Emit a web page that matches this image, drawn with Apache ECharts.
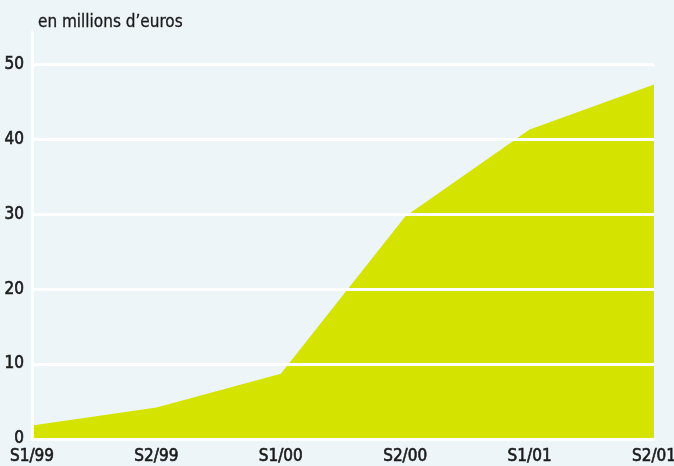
<!DOCTYPE html>
<html>
<head>
<meta charset="utf-8">
<script src="https://cdn.jsdelivr.net/npm/echarts@6/dist/echarts.min.js"></script>
<style>
html,body{margin:0;padding:0;background:#edf5f8;}
#c{width:674px;height:466px;}
</style>
</head>
<body>
<div id="c"></div>
<script>
const categories = ['S1/99', 'S2/99', 'S1/00', 'S2/00', 'S1/01', 'S2/01'];
const values = [1.8, 4.2, 8.7, 29.7, 41.3, 47.3];
const unitLabel = 'en millions d\u2019euros';

const font = '"Liberation Sans Narrow", "DejaVu Sans Condensed", sans-serif';
const labelStyle = {
  fontFamily: font, fontSize: 17, fontWeight: 'normal', color: '#1a1a1a',
  textBorderColor: '#1a1a1a', textBorderWidth: 0.6
};
const chart = echarts.init(document.getElementById('c'));
chart.setOption({
  backgroundColor: '#edf5f8',
  animation: false,
  title: {
    text: unitLabel,
    left: 33, top: 9,
    textStyle: { fontFamily: font, fontSize: 17, fontWeight: 'normal', color: '#1a1a1a',
      textBorderColor: '#1a1a1a', textBorderWidth: 0.3 }
  },
  grid: { left: 32, right: 20, top: 32, bottom: 27, outerBoundsMode: 'none', containLabel: false },
  xAxis: {
    type: 'category',
    data: categories,
    boundaryGap: false,
    axisLine: { show: true, lineStyle: { color: '#ffffff', width: 3 } },
    axisTick: { show: false },
    axisLabel: Object.assign({ margin: 9, showMinLabel: true, showMaxLabel: true, hideOverlap: false }, labelStyle),
    splitLine: { show: false },
    z: 5
  },
  yAxis: {
    type: 'value',
    min: 0, max: 54.3, interval: 10,
    axisLine: { show: true, lineStyle: { color: '#ffffff', width: 3 } },
    axisTick: { show: false },
    axisLabel: Object.assign({
      margin: 8,
      showMaxLabel: false,
      formatter: v => (v % 10 === 0 ? String(v) : '')
    }, labelStyle),
    splitLine: { show: true, showMaxLine: false, lineStyle: { color: '#ffffff', width: 3 } },
    z: 5
  },
  series: [{
    type: 'line',
    data: values,
    symbol: 'none',
    lineStyle: { width: 0 },
    areaStyle: { color: '#d5e300', opacity: 1 },
    z: 1
  }]
});
</script>
</body>
</html>
